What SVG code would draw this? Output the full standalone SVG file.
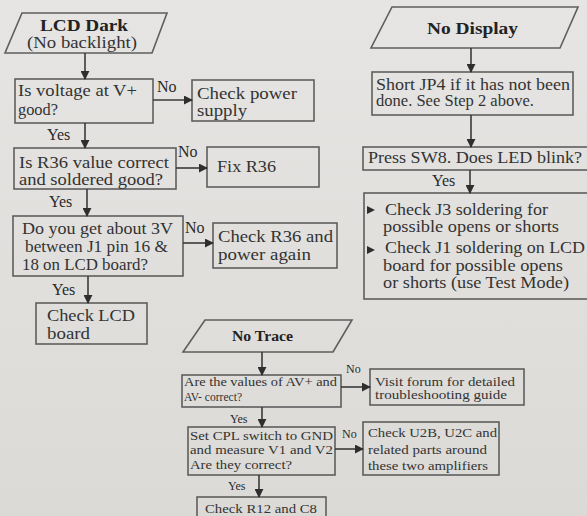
<svg xmlns="http://www.w3.org/2000/svg" width="587" height="516" viewBox="0 0 587 516">
<defs>
<linearGradient id="bg" x1="0" y1="0" x2="0" y2="1">
<stop offset="0" stop-color="#e6e5e3"/>
<stop offset="1" stop-color="#dbdad7"/>
</linearGradient>
<marker id="ah" viewBox="0 0 10 10" refX="9" refY="5" markerWidth="9" markerHeight="9" markerUnits="userSpaceOnUse" orient="auto">
<path d="M0,0 L10,5 L0,10 z" fill="#2e2e2e"/>
</marker>
</defs>
<style>
.box{fill:none;stroke:#5e5e5e;stroke-width:1.6}
.t{font-family:"Liberation Serif","Times New Roman",serif;fill:#333333}
.m{font-size:16px}
.s{font-size:12px}
.b{font-weight:bold;font-size:17px;fill:#222222}
.lbl{font-family:"Liberation Serif","Times New Roman",serif;fill:#2a2a2a;font-size:16px}
.lbls{font-family:"Liberation Serif","Times New Roman",serif;fill:#2a2a2a;font-size:12px}
.c{fill:none;stroke:#3a3a3a;stroke-width:1.6;marker-end:url(#ah)}
</style>
<rect x="0" y="0" width="587" height="516" fill="url(#bg)"/>

<!-- Left column -->
<g id="lcd-dark">
<polygon class="box" points="22,13 167,13 152,53 5,53"/>
<text class="t b" x="40" y="31" textLength="88" lengthAdjust="spacingAndGlyphs">LCD Dark</text>
<text class="t m" x="27" y="48" textLength="110" lengthAdjust="spacingAndGlyphs">(No backlight)</text>
</g>
<g id="voltage">
<rect class="box" x="15" y="79" width="138" height="44"/>
<text class="t m" x="18" y="96" textLength="119" lengthAdjust="spacingAndGlyphs">Is voltage at V+</text>
<text class="t m" x="18" y="115" textLength="40" lengthAdjust="spacingAndGlyphs">good?</text>
</g>
<g id="power-supply">
<rect class="box" x="192" y="80" width="122" height="41"/>
<text class="t m" x="197" y="99" textLength="100" lengthAdjust="spacingAndGlyphs">Check power</text>
<text class="t m" x="197" y="116" textLength="50" lengthAdjust="spacingAndGlyphs">supply</text>
</g>
<g id="r36">
<rect class="box" x="14" y="148" width="162" height="41"/>
<text class="t m" x="19" y="168" textLength="150" lengthAdjust="spacingAndGlyphs">Is R36 value correct</text>
<text class="t m" x="19" y="185" textLength="144" lengthAdjust="spacingAndGlyphs">and soldered good?</text>
</g>
<g id="fix-r36">
<rect class="box" x="207" y="147" width="112" height="40"/>
<text class="t m" x="217" y="172" textLength="59" lengthAdjust="spacingAndGlyphs">Fix R36</text>
</g>
<g id="j1-3v">
<rect class="box" x="13" y="216" width="170" height="60"/>
<text class="t m" x="22" y="234" textLength="151" lengthAdjust="spacingAndGlyphs">Do you get about 3V</text>
<text class="t m" x="25" y="252" textLength="143" lengthAdjust="spacingAndGlyphs">between J1 pin 16 &amp;</text>
<text class="t m" x="22" y="270" textLength="126" lengthAdjust="spacingAndGlyphs">18 on LCD board?</text>
</g>
<g id="check-r36">
<rect class="box" x="213" y="223" width="124" height="45"/>
<text class="t m" x="218" y="242" textLength="115" lengthAdjust="spacingAndGlyphs">Check R36 and</text>
<text class="t m" x="218" y="260" textLength="93" lengthAdjust="spacingAndGlyphs">power again</text>
</g>
<g id="check-lcd">
<rect class="box" x="36" y="303" width="111" height="41"/>
<text class="t m" x="47" y="321" textLength="88" lengthAdjust="spacingAndGlyphs">Check LCD</text>
<text class="t m" x="47" y="339" textLength="43" lengthAdjust="spacingAndGlyphs">board</text>
</g>

<!-- Right column -->
<g id="no-display">
<polygon class="box" points="392,7 578,7 560,48 371,48"/>
<text class="t b" x="427" y="34" textLength="91" lengthAdjust="spacingAndGlyphs">No Display</text>
</g>
<g id="short-jp4">
<rect class="box" x="372" y="72" width="201" height="43"/>
<text class="t m" x="376" y="90" textLength="194" lengthAdjust="spacingAndGlyphs">Short JP4 if it has not been</text>
<text class="t m" x="376" y="106" textLength="158" lengthAdjust="spacingAndGlyphs">done. See Step 2 above.</text>
</g>
<g id="press-sw8">
<rect class="box" x="363" y="147" width="230" height="23"/>
<text class="t m" x="368" y="163" textLength="214" lengthAdjust="spacingAndGlyphs">Press SW8. Does LED blink?</text>
</g>
<g id="check-j">
<rect class="box" x="364" y="193" width="230" height="106"/>
<path d="M367,206 L375,210 L367,214 z" fill="#2e2e2e"/>
<path d="M367,246 L375,250 L367,254 z" fill="#2e2e2e"/>
<text class="t m" x="385" y="215" textLength="163" lengthAdjust="spacingAndGlyphs">Check J3 soldering for</text>
<text class="t m" x="383" y="232" textLength="176" lengthAdjust="spacingAndGlyphs">possible opens or shorts</text>
<text class="t m" x="385" y="253" textLength="200" lengthAdjust="spacingAndGlyphs">Check J1 soldering on LCD</text>
<text class="t m" x="383" y="271" textLength="180" lengthAdjust="spacingAndGlyphs">board for possible opens</text>
<text class="t m" x="383" y="288" textLength="186" lengthAdjust="spacingAndGlyphs">or shorts (use Test Mode)</text>
</g>

<!-- Bottom middle -->
<g id="no-trace">
<polygon class="box" points="205,320 352,320 333,352 183,352"/>
<text class="t b" x="232" y="341" style="font-size:14px" textLength="61" lengthAdjust="spacingAndGlyphs">No Trace</text>
</g>
<g id="av-values">
<rect class="box" x="182" y="375" width="159" height="32"/>
<text class="t s" x="184" y="386" textLength="153" lengthAdjust="spacingAndGlyphs">Are the values of AV+ and</text>
<text class="t s" x="184" y="401" textLength="58" lengthAdjust="spacingAndGlyphs">AV- correct?</text>
</g>
<g id="visit-forum">
<rect class="box" x="370" y="369" width="154" height="36"/>
<text class="t s" x="375" y="386" textLength="140" lengthAdjust="spacingAndGlyphs">Visit forum for detailed</text>
<text class="t s" x="375" y="399" textLength="132" lengthAdjust="spacingAndGlyphs">troubleshooting guide</text>
</g>
<g id="cpl-switch">
<rect class="box" x="188" y="427" width="147" height="48"/>
<text class="t s" x="190" y="440" textLength="143" lengthAdjust="spacingAndGlyphs">Set CPL switch to GND</text>
<text class="t s" x="190" y="454" textLength="143" lengthAdjust="spacingAndGlyphs">and measure V1 and V2</text>
<text class="t s" x="190" y="469" textLength="102" lengthAdjust="spacingAndGlyphs">Are they correct?</text>
</g>
<g id="check-u2b">
<rect class="box" x="363" y="422" width="136" height="53"/>
<text class="t s" x="368" y="437" textLength="129" lengthAdjust="spacingAndGlyphs">Check U2B, U2C and</text>
<text class="t s" x="368" y="454" textLength="119" lengthAdjust="spacingAndGlyphs">related parts around</text>
<text class="t s" x="368" y="470" textLength="120" lengthAdjust="spacingAndGlyphs">these two amplifiers</text>
</g>
<g id="check-r12">
<rect class="box" x="197" y="497" width="129" height="30"/>
<text class="t s" x="205" y="513" textLength="112" lengthAdjust="spacingAndGlyphs">Check R12 and C8</text>
</g>

<!-- Connectors -->
<g id="connectors">
<path class="c" d="M85,53 V79"/>
<path class="c" d="M153,100 H192"/>
<path class="c" d="M85,123 V148"/>
<path class="c" d="M176,168 H207"/>
<path class="c" d="M87,189 V216"/>
<path class="c" d="M183,243 H213"/>
<path class="c" d="M88,276 V303"/>
<path class="c" d="M471,48 V72"/>
<path class="c" d="M471,115 V147"/>
<path class="c" d="M470,170 V193"/>
<path class="c" d="M262,352 V375"/>
<path class="c" d="M341,387 H370"/>
<path class="c" d="M262,407 V427"/>
<path class="c" d="M335,449 H363"/>
<path class="c" d="M259,475 V497"/>
<text class="lbl" x="157" y="92">No</text>
<text class="lbl" x="47" y="140">Yes</text>
<text class="lbl" x="178" y="157">No</text>
<text class="lbl" x="49" y="207">Yes</text>
<text class="lbl" x="185" y="233">No</text>
<text class="lbl" x="52" y="295">Yes</text>
<text class="lbl" x="432" y="186">Yes</text>
<text class="lbls" x="346" y="373">No</text>
<text class="lbls" x="230" y="423">Yes</text>
<text class="lbls" x="342" y="438">No</text>
<text class="lbls" x="228" y="490">Yes</text>
</g>
</svg>
